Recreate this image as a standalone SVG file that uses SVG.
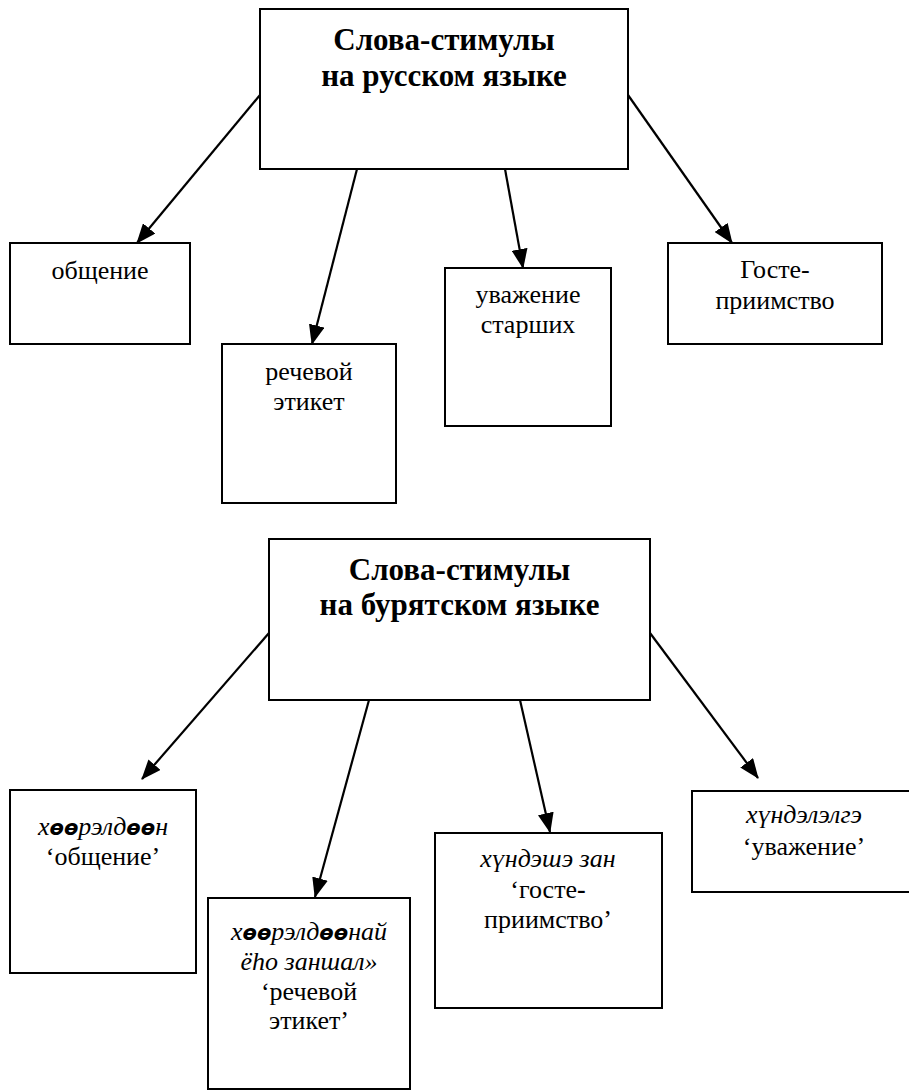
<svg xmlns="http://www.w3.org/2000/svg" width="909" height="1091" viewBox="0 0 909 1091">
<style>
.box{fill:#fff;stroke:#000;stroke-width:2}
text{font-family:Liberation Serif, Times New Roman, DejaVu Serif, serif}
.t{font-size:26px;fill:#000;text-anchor:middle}
.i{font-style:italic}
.title{font-size:31px;font-weight:bold;fill:#000;text-anchor:middle}
.th{font-family:DejaVu Sans, sans-serif;font-weight:bold;font-style:italic;font-size:21px}
.c{stroke:#000;stroke-width:2.2;fill:none;marker-end:url(#ah)}
</style>
<defs>
<marker id="ah" markerUnits="userSpaceOnUse" markerWidth="20" markerHeight="16" refX="19" refY="8" orient="auto">
<path d="M0,0 L20,8 L0,16 z" fill="#000"/>
</marker>
</defs>
<rect width="909" height="1091" fill="#fff"/>
<g id="connectors">
<line class="c" x1="260" y1="95" x2="137" y2="243"/>
<line class="c" x1="357" y1="169" x2="312" y2="344"/>
<line class="c" x1="505" y1="169" x2="523" y2="268"/>
<line class="c" x1="628" y1="95" x2="732" y2="243"/>
<line class="c" x1="269" y1="633" x2="142" y2="779"/>
<line class="c" x1="369" y1="700" x2="315" y2="897"/>
<line class="c" x1="520" y1="700" x2="550" y2="832"/>
<line class="c" x1="650" y1="633" x2="758" y2="778"/>
</g>
<g id="title-ru">
<rect class="box" x="260" y="9" width="368" height="160"/>
<text class="title" x="444" y="50" font-family="Liberation Serif">Слова-стимулы</text>
<text class="title" x="444" y="86" font-family="Liberation Serif">на русском языке</text>
</g>
<g id="ru-obshchenie">
<rect class="box" x="10" y="243" width="180" height="101"/>
<text class="t" x="100" y="279" font-family="Liberation Serif">общение</text>
</g>
<g id="ru-rechevoy">
<rect class="box" x="222" y="344" width="174" height="159"/>
<text class="t" x="309" y="380" font-family="Liberation Serif">речевой</text>
<text class="t" x="309" y="410" font-family="Liberation Serif">этикет</text>
</g>
<g id="ru-uvazhenie">
<rect class="box" x="445" y="268" width="166" height="158"/>
<text class="t" x="528" y="303" font-family="Liberation Serif">уважение</text>
<text class="t" x="528" y="333" font-family="Liberation Serif">старших</text>
</g>
<g id="ru-gostepriimstvo">
<rect class="box" x="668" y="243" width="214" height="101"/>
<text class="t" x="775" y="278" font-family="Liberation Serif">Госте-</text>
<text class="t" x="775" y="309" font-family="Liberation Serif">приимство</text>
</g>
<g id="title-bur">
<rect class="box" x="269" y="539" width="381" height="161"/>
<text class="title" x="459.5" y="580" font-family="Liberation Serif">Слова-стимулы</text>
<text class="title" x="459.5" y="615" font-family="Liberation Serif">на бурятском языке</text>
</g>
<g id="bur-obshchenie">
<rect class="box" x="10" y="790" width="186" height="183"/>
<text class="t i" x="103" y="835" font-family="Liberation Serif">х<tspan class="th">өө</tspan>рэлд<tspan class="th">өө</tspan>н</text>
<text class="t" x="103" y="865" font-family="Liberation Serif">‘общение’</text>
</g>
<g id="bur-rechevoy">
<rect class="box" x="208" y="898" width="202" height="191"/>
<text class="t i" x="309" y="940" font-family="Liberation Serif">х<tspan class="th">өө</tspan>рэлд<tspan class="th">өө</tspan>най</text>
<text class="t i" x="309" y="970" font-family="Liberation Serif">ёho заншал»</text>
<text class="t" x="309" y="1000" font-family="Liberation Serif">‘речевой</text>
<text class="t" x="309" y="1029" font-family="Liberation Serif">этикет’</text>
</g>
<g id="bur-gostepriimstvo">
<rect class="box" x="435" y="833" width="227" height="175"/>
<text class="t i" x="548" y="867" font-family="Liberation Serif">хүндэшэ зан</text>
<text class="t" x="548" y="898" font-family="Liberation Serif">‘госте<tspan font-weight="bold">-</tspan></text>
<text class="t" x="548" y="928" font-family="Liberation Serif">приимство’</text>
</g>
<g id="bur-uvazhenie">
<rect class="box" x="692" y="791" width="224" height="101"/>
<text class="t i" x="804" y="823" font-family="Liberation Serif">хүндэлэлгэ</text>
<text class="t" x="804" y="855" font-family="Liberation Serif">‘уважение’</text>
</g>
</svg>
